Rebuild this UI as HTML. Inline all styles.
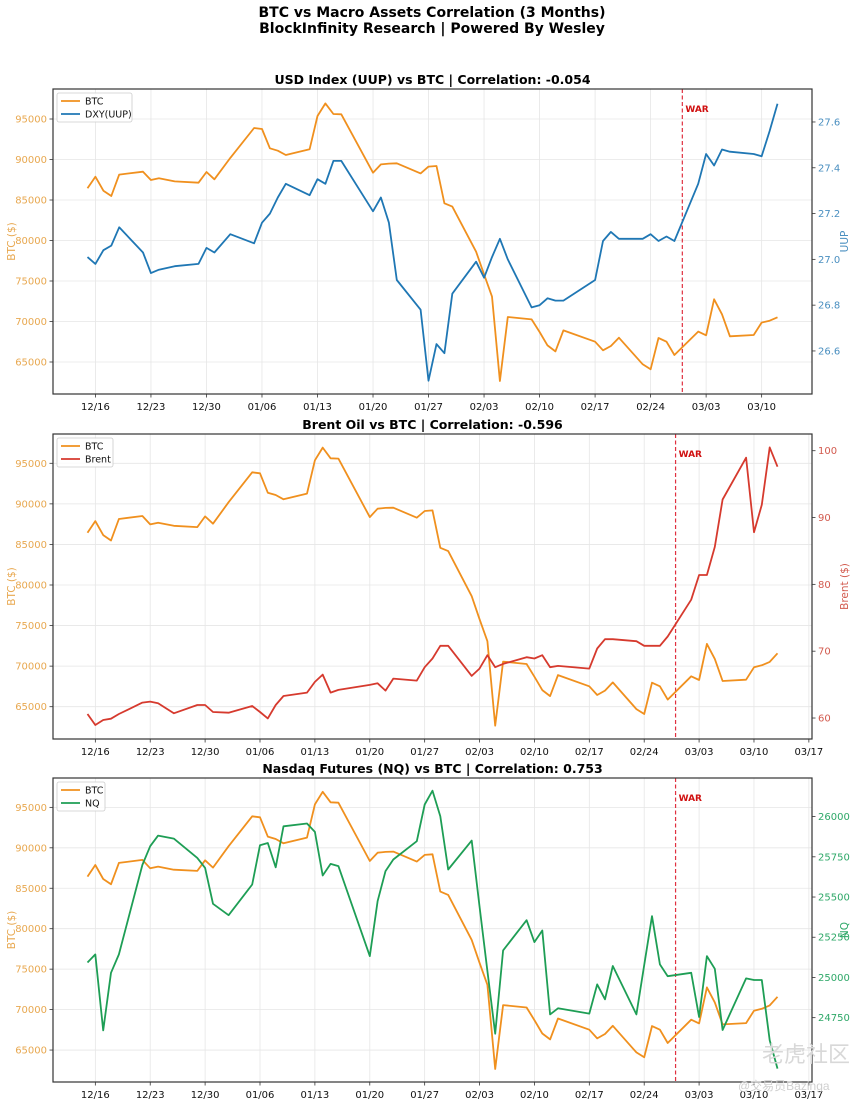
<!DOCTYPE html>
<html><head><meta charset="utf-8">
<style>
html,body{margin:0;padding:0;background:#fff;}
svg{display:block;font-family:"DejaVu Sans","Liberation Sans",sans-serif;}
</style></head>
<body>
<svg id="chart" width="865" height="1104" viewBox="0 0 865 1104" xmlns="http://www.w3.org/2000/svg">
<text x="432" y="17" text-anchor="middle" font-size="14" font-weight="bold">BTC vs Macro Assets Correlation (3 Months)</text>
<text x="432" y="33" text-anchor="middle" font-size="14" font-weight="bold">BlockInfinity Research | Powered By Wesley</text>
<g id="panels"></g>
<text x="762" y="1062" font-size="22" fill="#d8d8d8" font-family="'Liberation Sans','Noto Sans CJK SC',sans-serif">老虎社区</text>
<text x="738" y="1090" font-size="12" fill="#d0d0d0" font-family="'Liberation Sans','Noto Sans CJK SC',sans-serif">@交易员Bazinga</text>
</svg>
<script>
const dates = ["12/15","12/16","12/17","12/18","12/19","12/22","12/23","12/24","12/26","12/29","12/30","12/31","01/02","01/05","01/06","01/07","01/08","01/09","01/12","01/13","01/14","01/15","01/16","01/20","01/21","01/22","01/23","01/26","01/27","01/28","01/29","01/30","02/02","02/03","02/04","02/05","02/06","02/09","02/10","02/11","02/12","02/13","02/17","02/18","02/19","02/20","02/23","02/24","02/25","02/26","02/27","03/02","03/03","03/04","03/05","03/06","03/09","03/10","03/11","03/12","03/13"];
const btc = [86440,87880,86150,85490,88130,88500,87470,87680,87300,87140,88460,87550,90200,93890,93770,91380,91090,90560,91260,95370,96930,95620,95580,88370,89400,89500,89530,88290,89120,89200,84590,84180,78620,75800,73070,62660,70560,70260,68700,67050,66310,68900,67510,66440,66980,68000,64710,64100,67960,67510,65870,68750,68290,72740,70890,68170,68330,69860,70100,70520,71580];
const uup = [27.01,26.98,27.04,27.06,27.14,27.03,26.94,26.955,26.97,26.98,27.05,27.03,27.11,27.07,27.16,27.20,27.27,27.33,27.28,27.35,27.33,27.43,27.43,27.21,27.27,27.16,26.91,26.78,26.47,26.63,26.59,26.85,26.99,26.92,27.01,27.09,27.0,26.79,26.80,26.83,26.82,26.82,26.91,27.08,27.12,27.09,27.09,27.11,27.08,27.10,27.08,27.33,27.46,27.41,27.48,27.47,27.46,27.45,27.56,27.68];
const brent = [60.6,58.95,59.7,59.9,60.6,62.3,62.45,62.2,60.7,61.95,61.95,60.9,60.8,61.8,60.9,59.95,61.95,63.3,63.8,65.4,66.5,63.8,64.2,64.95,65.2,64.1,65.9,65.6,67.6,68.9,70.8,70.8,66.3,67.4,69.4,67.6,68.1,69.1,68.9,69.4,67.6,67.8,67.4,70.4,71.8,71.8,71.5,70.8,70.8,70.8,72.2,77.7,81.4,81.4,85.6,92.7,98.95,87.8,91.9,100.5,97.6];
const nq = [25093,25143,24671,25029,25143,25700,25816,25882,25863,25743,25681,25458,25387,25578,25822,25836,25685,25940,25957,25905,25634,25706,25692,25133,25474,25661,25733,25847,26075,26161,26002,25671,25851,25443,25040,24650,25168,25356,25220,25292,24770,24808,24775,24957,24864,25071,24770,25077,25381,25081,25008,25029,24754,25133,25054,24673,24994,24984,24984,24609,24433];
const xTickLabels1 = ["12/16","12/23","12/30","01/06","01/13","01/20","01/27","02/03","02/10","02/17","02/24","03/03","03/10"];
const xTickLabels2 = ["12/16","12/23","12/30","01/06","01/13","01/20","01/27","02/03","02/10","02/17","02/24","03/03","03/10","03/17"];
const btcTicks = [65000,70000,75000,80000,85000,90000,95000];
const uupTicks = [26.6,26.8,27.0,27.2,27.4,27.6];
const brentTicks = [60,70,80,90,100];
const nqTicks = [24750,25000,25250,25500,25750,26000];
const titles = ["USD Index (UUP) vs BTC | Correlation: -0.054","Brent Oil vs BTC | Correlation: -0.596","Nasdaq Futures (NQ) vs BTC | Correlation: 0.753"];
const warDate = "02/28";

const NS="http://www.w3.org/2000/svg";
function dayIdx(s){const m=+s.slice(0,2),d=+s.slice(3);if(m===12)return d-16;if(m===1)return 15+d;if(m===2)return 46+d;return 74+d;}
function mk(tag,attrs,parent){const e=document.createElementNS(NS,tag);for(const k in attrs)e.setAttribute(k,attrs[k]);parent.appendChild(e);return e;}
const root=document.getElementById('panels');
const BTC_C="#f0901e", TICK_O="#e8a850";

function panel(cfg){
  const g=mk('g',{},root);
  
  
  const L=53,R=812,T=cfg.top,B=cfg.bottom;
  const n=cfg.n;
  const d0=dayIdx(dates[0]),d1=dayIdx(dates[n-1]),m=(d1-d0)*0.05;
  const xs=v=>L+(v-(d0-m))/((d1+m)-(d0-m))*(R-L);
  const yl=v=>B-(v-cfg.lmin)/(cfg.lmax-cfg.lmin)*(B-T);
  const yr=v=>B-(v-cfg.rmin)/(cfg.rmax-cfg.rmin)*(B-T);
  // grid
  cfg.xt.forEach(t=>{const x=xs(dayIdx(t));
    const gl=mk('line',{x1:x,x2:x,y1:T,y2:B,stroke:'#e6e6e6','stroke-width':0.8},g);
    
    mk('line',{x1:x,x2:x,y1:B,y2:B+3.5,stroke:'#333','stroke-width':0.8},g);
    const tl=mk('text',{x:x,y:B+16,'text-anchor':'middle','font-size':10,fill:'#111'},g);tl.textContent=t;
    });
  btcTicks.forEach(v=>{const y=yl(v);
    const gl=mk('line',{x1:L,x2:R,y1:y,y2:y,stroke:'#e6e6e6','stroke-width':0.8},g);
    
    mk('line',{x1:L-3.5,x2:L,y1:y,y2:y,stroke:'#333','stroke-width':0.8},g);
    const tl=mk('text',{x:L-6,y:y+3.5,'text-anchor':'end','font-size':10,fill:TICK_O},g);tl.textContent=v;
    });
  cfg.rt.forEach(v=>{const y=yr(v);
    mk('line',{x1:R,x2:R+3.5,y1:y,y2:y,stroke:'#333','stroke-width':0.8},g);
    const tl=mk('text',{x:R+6,y:y+3.5,'font-size':10,fill:cfg.tickC},g);tl.textContent=cfg.rfmt(v);
    });
  // war line
  const wx=xs(dayIdx(warDate));
  const wl=mk('line',{x1:wx,x2:wx,y1:T,y2:B,stroke:'#e03040','stroke-width':1.2,'stroke-dasharray':'4,2.5'},g);
  
  const wt=mk('text',{x:wx+3,y:T+23,'font-size':9,'font-weight':'bold',fill:'#d01010'},g);wt.textContent='WAR';
  
  // series
  const pts=(arr,ys)=>arr.slice(0,n).map((v,i)=>xs(dayIdx(dates[i])).toFixed(1)+','+ys(v).toFixed(1)).join(' ');
  const p1=mk('polyline',{points:pts(btc,yl),fill:'none',stroke:BTC_C,'stroke-width':1.8,'stroke-linejoin':'round'},g);
  
  const p2=mk('polyline',{points:pts(cfg.series,yr),fill:'none',stroke:cfg.color,'stroke-width':1.8,'stroke-linejoin':'round'},g);
  
  // frame
  const fr=mk('rect',{x:L,y:T,width:R-L,height:B-T,fill:'none',stroke:'#333','stroke-width':1.2},g);
  
  // title
  const ti=mk('text',{x:(L+R)/2,y:T-5,'text-anchor':'middle','font-size':12.5,'font-weight':'bold',fill:'#000'},g);ti.textContent=cfg.title;
  
  // axis titles
  const ly=(T+B)/2;
  const la=mk('text',{x:15,y:ly,'text-anchor':'middle','font-size':10.5,fill:TICK_O,transform:`rotate(-90 15 ${ly})`},g);la.textContent='BTC ($)';
  
  const ra=mk('text',{x:848,y:ly,'text-anchor':'middle','font-size':10.5,fill:cfg.tickC,transform:`rotate(-90 848 ${ly})`},g);ra.textContent=cfg.rTitle;
  
  // legend
  const lg=mk('g',{},g);
  
  mk('rect',{x:L+4,y:T+4,width:cfg.legW,height:29,rx:2,fill:'#fff','fill-opacity':0.85,stroke:'#ccc','stroke-width':0.8},lg);
  [[ 'BTC',BTC_C],[cfg.legLabel,cfg.color]].forEach((e,i)=>{const yy=T+12+i*13;
    const en=mk('g',{},lg);
    mk('line',{x1:L+8,x2:L+27,y1:yy,y2:yy,stroke:e[1],'stroke-width':1.8},en);
    const t=mk('text',{x:L+32,y:yy+3.5,'font-size':9.5,fill:'#111'},en);t.textContent=e[0];});
}
panel({name:'uup-panel',top:89,bottom:394,n:60,lmin:61049,lmax:98704,rmin:26.412,rmax:27.744,xt:xTickLabels1,rt:uupTicks,rfmt:v=>v.toFixed(1),tickC:'#4a8fc0',color:'#1f77b4',series:uup,seriesName:'uup-line',title:titles[0],rTitle:'UUP',legLabel:'DXY(UUP)',legW:75});
panel({name:'brent-panel',top:434,bottom:739,n:61,lmin:61019,lmax:98611,rmin:56.86,rmax:102.5,xt:xTickLabels2,rt:brentTicks,rfmt:v=>v,tickC:'#d25a4e',color:'#d63a2e',series:brent,seriesName:'brent-line',title:titles[1],rTitle:'Brent ($)',legLabel:'Brent',legW:56});
panel({name:'nq-panel',top:778,bottom:1082,n:61,lmin:61050,lmax:98630,rmin:24350,rmax:26240,xt:xTickLabels2,rt:nqTicks,rfmt:v=>v,tickC:'#2ea868',color:'#1e9e55',series:nq,seriesName:'nq-line',title:titles[2],rTitle:'NQ',legLabel:'NQ',legW:48});
</script>
</body></html>
